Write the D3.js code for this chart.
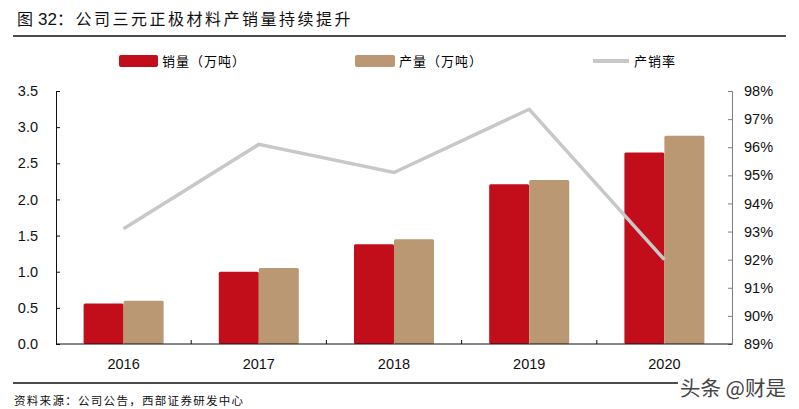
<!DOCTYPE html>
<html>
<head>
<meta charset="utf-8">
<script src="https://cdn.jsdelivr.net/npm/d3@7"></script>
<style>
  body { margin: 0; background: #fff; }
  svg { display: block; }
  .num { font-family: "Liberation Sans", Arial, sans-serif; font-size: 14.5px; fill: #111; }
  .cjk { font-family: "Noto Sans CJK SC", sans-serif; }
</style>
</head>
<body>
<svg id="chart" width="799" height="409"></svg>
<script>
const years = ['2016', '2017', '2018', '2019', '2020'];
const sales = [0.56, 1.00, 1.38, 2.21, 2.65];       // 销量（万吨）
const output = [0.60, 1.05, 1.45, 2.27, 2.88];      // 产量（万吨）
const rate = [93.1, 96.1, 95.1, 97.35, 92.0];       // 产销率 %
const leftTicks = [0, 0.5, 1.0, 1.5, 2.0, 2.5, 3.0, 3.5];
const rightTicks = [89, 90, 91, 92, 93, 94, 95, 96, 97, 98];

const red = '#c20e1a';
const tan = '#b99873';
const grey = '#c8c8c8';

const svg = d3.select('#chart');

const plotLeft = 56, plotRight = 732, plotTop = 91, plotBottom = 344;

const x0 = d3.scaleBand().domain(years).range([plotLeft, plotRight]).padding(0);
const x1 = d3.scaleBand().domain(['sales', 'output'])
  .range([0, x0.bandwidth()]).paddingInner(0).paddingOuter(0.69);
const yL = d3.scaleLinear().domain([0, 3.5]).range([plotBottom, plotTop]);
const yR = d3.scaleLinear().domain([89, 98]).range([plotBottom, plotTop]);

// title
const title = svg.append('text')
  .attr('x', 17).attr('y', 25)
  .attr('fill', '#111')
  .attr('font-size', 16);
title.append('tspan').attr('class', 'cjk').text('图');
title.append('tspan')
  .attr('dx', 5)
  .attr('font-family', '"Liberation Sans", Arial, sans-serif')
  .attr('font-size', 17).text('32');
title.append('tspan').attr('class', 'cjk')
  .attr('letter-spacing', 2.5)
  .text('：公司三元正极材料产销量持续提升');

svg.append('line')
  .attr('x1', 13).attr('x2', 786).attr('y1', 36).attr('y2', 36)
  .attr('stroke', '#111').attr('stroke-width', 1.3);

// legend
const legend = svg.append('g').attr('class', 'cjk').attr('font-size', 13);
legend.append('rect').attr('x', 119).attr('y', 55).attr('width', 39).attr('height', 12)
  .attr('rx', 2).attr('fill', red);
legend.append('text').attr('x', 162).attr('y', 66).attr('letter-spacing', 1).text('销量（万吨）');
legend.append('rect').attr('x', 355).attr('y', 55).attr('width', 40).attr('height', 12)
  .attr('rx', 2).attr('fill', tan);
legend.append('text').attr('x', 399).attr('y', 66).attr('letter-spacing', 1).text('产量（万吨）');
legend.append('line').attr('x1', 593).attr('x2', 629).attr('y1', 61).attr('y2', 61)
  .attr('stroke', grey).attr('stroke-width', 4);
legend.append('text').attr('x', 634).attr('y', 66).attr('letter-spacing', 1).text('产销率');

// bars
const groups = svg.append('g').selectAll('g')
  .data(years)
  .join('g')
  .attr('transform', d => `translate(${x0(d)},0)`);

groups.append('rect')
  .attr('x', x1('sales'))
  .attr('y', (d, i) => yL(sales[i]))
  .attr('width', x1.bandwidth())
  .attr('height', (d, i) => plotBottom - yL(sales[i]))
  .attr('rx', 1.5)
  .attr('fill', red);

groups.append('rect')
  .attr('x', x1('output'))
  .attr('y', (d, i) => yL(output[i]))
  .attr('width', x1.bandwidth())
  .attr('height', (d, i) => plotBottom - yL(output[i]))
  .attr('rx', 1.5)
  .attr('fill', tan);

// rate line
const line = d3.line()
  .x((d, i) => x0(years[i]) + x0.bandwidth() / 2)
  .y(d => yR(d));

svg.append('path')
  .datum(rate)
  .attr('d', line)
  .attr('fill', 'none')
  .attr('stroke', grey)
  .attr('stroke-width', 3.5);

// left axis
const axL = svg.append('g')
  .attr('transform', `translate(${plotLeft},0)`)
  .call(d3.axisLeft(yL).tickValues(leftTicks).tickFormat(d3.format('.1f'))
    .tickSize(-4).tickPadding(18));
axL.selectAll('text').attr('class', 'num');
axL.select('.domain').attr('stroke', '#111');
axL.selectAll('.tick line').attr('stroke', '#111');

// right axis
const axR = svg.append('g')
  .attr('transform', `translate(${plotRight},0)`)
  .call(d3.axisRight(yR).tickValues(rightTicks).tickFormat(d => d + '%')
    .tickSize(-4).tickPadding(12));
axR.selectAll('text').attr('class', 'num');
axR.select('.domain').attr('stroke', '#808080');
axR.selectAll('.tick line').attr('stroke', '#808080');

// x axis
svg.append('line')
  .attr('x1', plotLeft).attr('x2', plotRight).attr('y1', plotBottom).attr('y2', plotBottom)
  .attr('stroke', '#111');
svg.append('g').selectAll('line')
  .data(years.slice(1))
  .join('line')
  .attr('x1', d => x0(d)).attr('x2', d => x0(d))
  .attr('y1', plotBottom).attr('y2', plotBottom - 4)
  .attr('stroke', '#111');
svg.append('g').selectAll('text')
  .data(years)
  .join('text')
  .attr('class', 'num')
  .attr('x', d => x0(d) + x0.bandwidth() / 2)
  .attr('y', 369)
  .attr('text-anchor', 'middle')
  .text(d => d);

// footer
svg.append('line')
  .attr('x1', 13).attr('x2', 678).attr('y1', 383).attr('y2', 383)
  .attr('stroke', '#111').attr('stroke-width', 1.3);
svg.append('text')
  .attr('class', 'cjk')
  .attr('x', 14).attr('y', 405)
  .attr('font-size', 11.5)
  .attr('letter-spacing', 1.3)
  .attr('fill', '#111')
  .text('资料来源：公司公告，西部证券研发中心');
svg.append('text')
  .attr('class', 'cjk')
  .attr('x', 680).attr('y', 396)
  .attr('font-size', 20.5)
  .attr('fill', '#444')
  .attr('stroke', '#fff').attr('stroke-width', 0.6).attr('paint-order', 'stroke')
  .text('头条 @财是');
</script>
</body>
</html>
